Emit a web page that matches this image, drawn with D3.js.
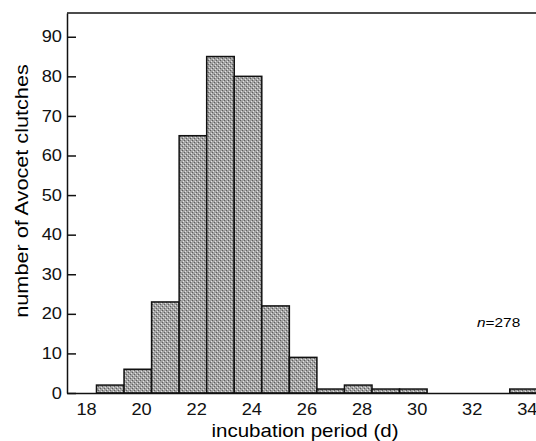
<html>
  <head>
    <style>
      body {
        margin:0;
        background:#fff;
        font-family:"Liberation Sans", Arial, sans-serif;
      }
      .axis text {
        font-size:16px;
        fill:#111;
      }
      .axis .domain, .axis .tick line {
        stroke:#111;
        stroke-width:1.5;
      }
      .bar {
        fill:url(#stipple);
        stroke:#111;
        stroke-width:1.5;
      }
    </style>
  </head>
  <body>
    <div class="chart"></div>
    <script src="https://d3js.org/d3.v7.min.js"></script>
    <script>
      // days of incubation and number of clutches
      var days = [19, 20, 21, 22, 23, 24, 25, 26, 27, 28, 29, 30, 31, 32, 33, 34];
      var counts = [2, 6, 23, 65, 85, 80, 22, 9, 1, 2, 1, 1, 0, 0, 0, 1];
      var xTicks = [18, 20, 22, 24, 26, 28, 30, 32, 34];
      var yTicks = [0, 10, 20, 30, 40, 50, 60, 70, 80, 90];
      var sampleLabel = "278";

      var width = 536, height = 441;
      var margin = {top:13, right:-6, bottom:48, left:67};
      var binShift = 0.62; // bars sit slightly left of the whole day
      var stretch = "scale(1.14,1)"; // the printed type is a bit wide

      var svg = d3.select(".chart").append("svg")
        .attr("width", width)
        .attr("height", height);

      var defs = svg.append("defs");
      var pat = defs.append("pattern")
        .attr("id", "stipple")
        .attr("width", 4).attr("height", 4)
        .attr("patternUnits", "userSpaceOnUse");
      pat.append("rect").attr("width", 4).attr("height", 4).attr("fill", "#a2a2a2");
      pat.append("rect").attr("x", 0).attr("y", 0).attr("width", 1).attr("height", 1).attr("fill", "#5e5e5e");
      pat.append("rect").attr("x", 2).attr("y", 2).attr("width", 1).attr("height", 1).attr("fill", "#5e5e5e");
      pat.append("rect").attr("x", 1).attr("y", 3).attr("width", 1).attr("height", 1).attr("fill", "#e2e2e2");
      pat.append("rect").attr("x", 3).attr("y", 1).attr("width", 1).attr("height", 1).attr("fill", "#e2e2e2");

      var x = d3.scaleLinear()
        .domain([17.31, 34.55])
        .range([margin.left, width - margin.right]);
      var y = d3.scaleLinear()
        .domain([0, 96])
        .range([height - margin.bottom, margin.top]);

      var data = days.map(function (d, i) { return {day:d, n:counts[i]}; });

      svg.append("g").selectAll("rect")
        .data(data.filter(function (d) { return d.n > 0; }))
        .enter().append("rect")
        .attr("class", "bar")
        .attr("x", function (d) { return x(d.day - binShift); })
        .attr("width", function (d) { return x(d.day - binShift + 1) - x(d.day - binShift); })
        .attr("y", function (d) { return y(d.n); })
        .attr("height", function (d) { return y(0) - y(d.n); });

      // frame
      svg.append("line")
        .attr("x1", margin.left).attr("x2", width)
        .attr("y1", y(96)).attr("y2", y(96))
        .attr("stroke", "#111").attr("stroke-width", 1.5);

      svg.append("g")
        .attr("class", "x axis")
        .attr("transform", "translate(0," + y(0) + ")")
        .call(d3.axisBottom(x).tickValues(xTicks).tickSize(0).tickPadding(11).tickFormat(d3.format("d")));

      svg.append("g")
        .attr("class", "y axis")
        .attr("transform", "translate(" + margin.left + ",0)")
        .call(d3.axisLeft(y).tickValues(yTicks).tickSizeInner(-9).tickSizeOuter(0).tickPadding(5).tickFormat(d3.format("d")));

      svg.selectAll(".x.axis .tick text").attr("transform", stretch);
      svg.selectAll(".y.axis .tick text")
        .attr("x", 0)
        .attr("transform", "translate(-5,0) " + stretch);

      svg.append("text")
        .attr("transform", "translate(305,437) " + stretch)
        .attr("text-anchor", "middle")
        .style("font-size", "18px")
        .text("incubation period (d)");

      svg.append("text")
        .attr("transform", "translate(28,191) rotate(-90) " + stretch)
        .attr("text-anchor", "middle")
        .style("font-size", "19px")
        .text("number of Avocet clutches");

      var nt = svg.append("text")
        .attr("transform", "translate(477,327) " + stretch)
        .style("font-size", "13.5px");
      nt.append("tspan").style("font-style", "italic").text("n");
      nt.append("tspan").text("=" + sampleLabel);
    </script>
  </body>
</html>
